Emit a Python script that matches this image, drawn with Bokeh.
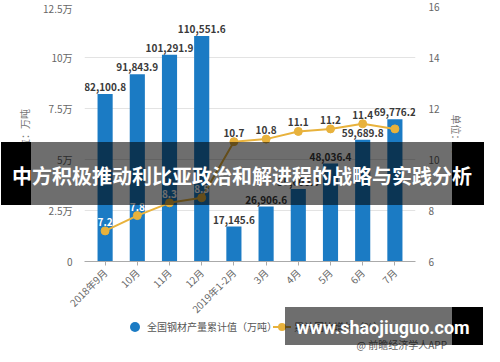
import math
from bokeh.plotting import figure
from bokeh.layouts import column
from bokeh.models import (Range1d, LinearAxis, ColumnDataSource, LabelSet, FixedTicker, Div)
from bokeh.core.properties import value
from bokeh.embed import file_html
from bokeh.resources import INLINE

categories = ["2018年9月", "10月", "11月", "12月", "2019年1-2月", "3月", "4月", "5月", "6月", "7月"]
output_values = [82100.8, 91843.9, 101291.9, 110551.6, 17145.6, 26906.6, 35600.0, 48036.4, 59689.8, 69776.2]
growth_values = [7.2, 7.8, 8.3, 8.5, 10.7, 10.8, 11.1, 11.2, 11.4, 11.2]
growth_label_shown = [True, True, True, True, True, True, True, True, True, False]
left_ticks = [0, 25000, 50000, 75000, 100000, 125000]
left_tick_labels = ["0", "2.5万", "5万", "7.5万", "10万", "12.5万"]
right_ticks = [6, 8, 10, 12, 14, 16]
series_names = ["全国钢材产量累计值（万吨）", "累计同比增长（%）"]
title_text = "中方积极推动利比亚政治和解进程的战略与实践分析"
watermark_text = "www.shaojiuguo.com"
source_text = "@ 前瞻经济学人APP"

BAR = "#1b7bc4"
GOLD = "#e8b23c"
FONT = "Noto Sans CJK SC"

# frame placement (figure pixels); page = figure + 8
BL, BR, BT, BB = 84, 69, 6, 91
FW, FH = 331, 255
W, H = BL + FW + BR, BT + FH + BB

xs = list(range(len(categories)))
p = figure(frame_width=FW, frame_height=FH, output_backend="svg", toolbar_location=None,
           x_range=Range1d(-0.64, len(categories) - 1 + 0.64),
           y_range=Range1d(left_ticks[0], left_ticks[-1]),
           min_border_left=BL, min_border_right=BR, min_border_top=BT, min_border_bottom=BB)
p.outline_line_color = None
p.background_fill_color = "white"
p.border_fill_color = "white"

p.extra_y_ranges = {"pct": Range1d(right_ticks[0], right_ticks[-1])}

# growth label sits on a bar -> white text
span_left = left_ticks[-1] - left_ticks[0]
span_right = right_ticks[-1] - right_ticks[0]
on_bar = [((g - right_ticks[0]) / span_right * span_left) < v for g, v in zip(growth_values, output_values)]

src = ColumnDataSource(dict(
    x=xs, val=output_values,
    vlab=[f"{v:,.1f}" for v in output_values],
    g=growth_values,
    glab=[f"{g:.1f}" if s else "" for g, s in zip(growth_values, growth_label_shown)],
    gcol=["#ffffff" if b else "#3a3a3a" for b in on_bar],
))

p.vbar(x="x", top="val", width=0.47, source=src, fill_color=BAR, line_color=None)
p.line(x="x", y="g", source=src, y_range_name="pct", line_color=GOLD, line_width=2)
p.scatter(x="x", y="g", source=src, y_range_name="pct", size=8, fill_color=GOLD, line_color=GOLD)

p.add_layout(LabelSet(x="x", y="val", text="vlab", source=src, text_align="center",
                      text_baseline="bottom", y_offset=3, text_font=value(FONT),
                      text_font_size="10px", text_font_style="bold", text_color="#3a3a3a"))
p.add_layout(LabelSet(x="x", y="g", text="glab", source=src, y_range_name="pct",
                      text_align="center", text_baseline="bottom", y_offset=5,
                      text_font=value(FONT), text_font_size="10px", text_font_style="bold",
                      text_color="gcol"))

# left axis
ya = p.yaxis[0]
ya.ticker = FixedTicker(ticks=left_ticks)
ya.major_label_overrides = {t: l for t, l in zip(left_ticks, left_tick_labels)}
ya.axis_line_color = None
ya.major_tick_line_color = None
ya.minor_tick_line_color = None
ya.major_label_text_color = "#666666"
ya.major_label_text_font = FONT
ya.major_label_text_font_size = "10px"
ya.major_label_standoff = 6
ya.axis_label = "单位：万吨"
ya.axis_label_text_font = FONT
ya.axis_label_text_font_size = "10px"
ya.axis_label_text_font_style = "normal"
ya.axis_label_text_color = "#777777"
ya.axis_label_standoff = 8

# right axis
ra = LinearAxis(y_range_name="pct", ticker=FixedTicker(ticks=right_ticks))
ra.axis_line_color = None
ra.major_tick_line_color = None
ra.minor_tick_line_color = None
ra.major_label_text_color = "#666666"
ra.major_label_text_font = FONT
ra.major_label_text_font_size = "10px"
ra.major_label_standoff = 7
ra.axis_label = "单位：%"
ra.axis_label_text_font = FONT
ra.axis_label_text_font_size = "10px"
ra.axis_label_text_font_style = "normal"
ra.axis_label_text_color = "#777777"
ra.axis_label_standoff = 6
p.add_layout(ra, "right")

# bottom axis
xa = p.xaxis[0]
xa.ticker = FixedTicker(ticks=xs)
xa.major_label_overrides = {i: c for i, c in zip(xs, categories)}
xa.axis_line_color = "#aaaaaa"
xa.major_tick_line_color = "#aaaaaa"
xa.minor_tick_line_color = None
xa.major_tick_in = 0
xa.major_tick_out = 4
xa.major_label_orientation = math.pi / 4
xa.major_label_text_color = "#666666"
xa.major_label_text_font = FONT
xa.major_label_text_font_size = "10px"

p.xgrid.grid_line_color = None
p.ygrid.grid_line_color = "#e3e3e3"

# ---- HTML overlay (legend, banner, watermark) laid over the chart ----
def fx(v):  # page -> figure pixels
    return v - 8

def rect(l, r, t, b, color):
    return (f'<div style="position:absolute;left:{fx(l)}px;top:{fx(t)}px;width:{r - l}px;'
            f'height:{b - t}px;background:{color};"></div>')

def text(l, r, cy, lh, s, color, size, weight="normal", align="left", font=FONT):
    return (f'<div style="position:absolute;left:{fx(l)}px;top:{fx(cy) - lh // 2}px;width:{r - l}px;'
            f'height:{lh}px;line-height:{lh}px;color:{color};font-size:{size}px;font-weight:{weight};'
            f'text-align:{align};font-family:\'{font}\';white-space:nowrap;">{s}</div>')

parts = []
# legend
parts.append(f'<div style="position:absolute;left:{fx(138)}px;top:{fx(330)}px;width:10px;height:10px;'
             f'border-radius:5px;background:{BAR};"></div>')
parts.append(text(155, 290, 335, 14, series_names[0], "#555555", 10))
parts.append(f'<div style="position:absolute;left:{fx(281)}px;top:{fx(334)}px;width:18px;height:2px;'
             f'background:{GOLD};"></div>')
parts.append(f'<div style="position:absolute;left:{fx(286)}px;top:{fx(331)}px;width:8px;height:8px;'
             f'border-radius:4px;background:{GOLD};"></div>')
parts.append(text(302, 440, 335, 14, series_names[1], "#555555", 10))
parts.append(text(300, 455, 353, 12, source_text, "#666666", 10, align="right"))
# banner
parts.append(rect(9, 39, 150, 213, "#000000"))
parts.append(rect(39, 460, 150, 213, "rgba(0,0,0,0.57)"))
parts.append(rect(460, 492, 150, 213, "#000000"))
parts.append(text(8, 492, 184, 40, title_text, "#ffffff", 20, weight="bold", align="center"))
# watermark
parts.append(rect(293, 460, 315, 353, "rgba(0,0,0,0.57)"))
parts.append(rect(460, 491, 315, 353, "#000000"))
parts.append(text(293, 489, 336, 20, watermark_text, "#ffffff", 18, weight="bold", align="center",
                  font="Roboto"))

overlay_html = f'<div style="position:relative;width:{W}px;height:{H}px;">' + "".join(parts) + "</div>"
ov = Div(text=overlay_html, width=W, height=H, margin=0,
         styles={"position": "absolute", "left": "0px", "top": "0px"})

layout = column(p, ov, styles={"position": "relative"})
open("out.html", "w").write(file_html(layout, INLINE))
